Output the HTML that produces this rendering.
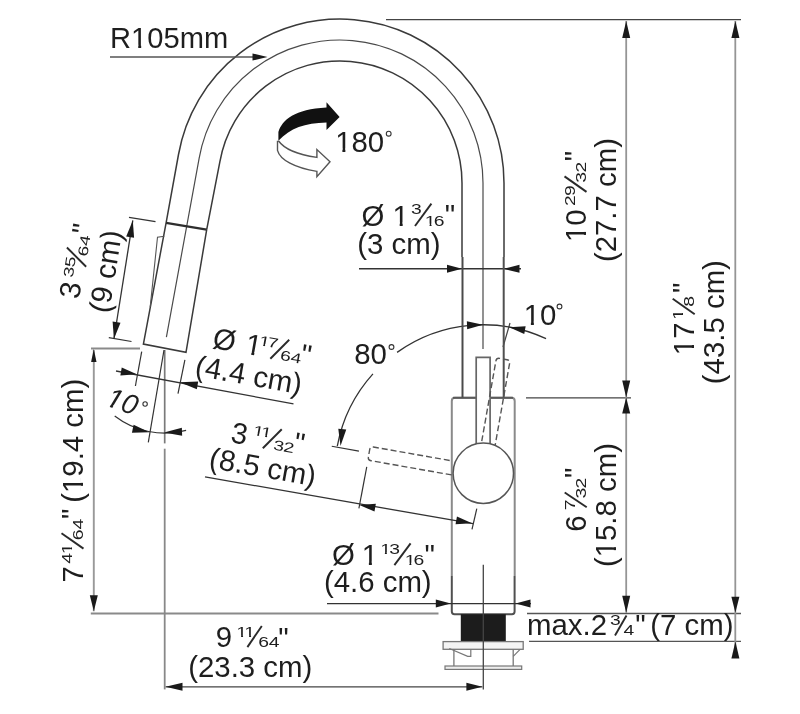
<!DOCTYPE html>
<html><head><meta charset="utf-8"><style>
html,body{margin:0;padding:0;background:#fff;}
svg{display:block;will-change:transform;}
#wrap{width:800px;height:714px;overflow:hidden;}
text{font-family:"Liberation Sans",sans-serif;}
</style></head><body><div id="wrap">
<svg width="800" height="714" viewBox="0 0 800 714">
<rect width="800" height="714" fill="#fff"></rect>
<path d="M504,257 L504,183 A164,164 0 0 0 178.5,154.5 L166.1,222.9 L143.4,344.1 L186,352.3 L206.7,229.7" fill="none" stroke="#3a3a3a" stroke-width="1.5"></path>
<path d="M462,257 L462,183 A122,122 0 0 0 219.85,161.8 L206.7,229.7" fill="none" stroke="#3a3a3a" stroke-width="1.5"></path>
<path d="M483,349 L483,183 A143,143 0 0 0 199.17,158.17 L166.4,337.1" fill="none" stroke="#4a4a4a" stroke-width="1.2"></path>
<line x1="166.10" y1="222.90" x2="206.70" y2="229.70" stroke="#2e2e2e" stroke-width="2.3"></line>
<path d="M150.2,306.9 L157.5,237.2 L164.3,236.2" fill="none" stroke="#555" stroke-width="1.1"></path>
<line x1="386.00" y1="19.60" x2="741.00" y2="19.60" stroke="#444" stroke-width="1.4"></line>
<text x="110.11" y="48.00" font-size="29.1" fill="#1e1e1e">R105mm</text><polygon points="132.03,49.30 132.03,44.79 138.24,44.79 138.24,49.30" fill="#fff"></polygon><polygon points="141.18,49.30 141.18,44.79 147.17,44.79 147.17,49.30" fill="#fff"></polygon>
<line x1="110.00" y1="57.00" x2="256.00" y2="57.00" stroke="#555" stroke-width="1.5"></line>
<polygon points="267.50,57.00 252.50,60.60 252.50,53.40" fill="#1a1a1a" stroke="none" stroke-width="1"></polygon>
<path d="M278.4,132 C282,120 295,109 326.5,107.5 L326.5,102.25 L339.6,117.1 L326.5,129.9 L326.5,122.4 C305,123 290,128 278.4,140.75 Z" fill="#111"></path>
<path d="M277.5,140.75 L277.5,150.4 C280,160 295,168 316.9,171.4 L316.9,176.6 L330,161.75 L316.9,149.5 L316.9,157.4 C300,155 285,150 278.4,140.75" fill="#fff" stroke="#555" stroke-width="1.4"></path>
<text x="335.18" y="151.60" font-size="29.4" fill="#1e1e1e">180</text><polygon points="336.12,152.90 336.12,148.36 342.39,148.36 342.39,152.90" fill="#fff"></polygon><polygon points="345.36,152.90 345.36,148.36 351.40,148.36 351.40,152.90" fill="#fff"></polygon>
<circle cx="388.70" cy="133.70" r="2.4" fill="none" stroke="#333" stroke-width="1.1"></circle>
<line x1="359.00" y1="268.75" x2="521.00" y2="268.75" stroke="#333" stroke-width="1.3"></line>
<polygon points="462.00,268.75 447.00,272.75 447.00,264.75" fill="#1a1a1a" stroke="none" stroke-width="1"></polygon>
<polygon points="503.50,268.75 519.50,264.75 519.50,272.75" fill="#1a1a1a" stroke="none" stroke-width="1"></polygon>
<text x="361.38" y="225.50" font-size="29.4" fill="#1e1e1e">Ø</text>
<text x="392.48" y="225.50" font-size="29.4" fill="#1e1e1e">1</text><polygon points="393.42,226.80 393.42,222.26 399.69,222.26 399.69,226.80" fill="#fff"></polygon><polygon points="402.66,226.80 402.66,222.26 408.70,222.26 408.70,226.80" fill="#fff"></polygon>
<text transform="translate(410.96,214.00) scale(1.38,1)" font-size="14" fill="#1e1e1e">3</text>
<line x1="415.00" y1="226.00" x2="431.40" y2="203.60" stroke="#2a2a2a" stroke-width="1.9"></line>
<text transform="translate(424.85,225.70) scale(1.38,1)" font-size="14" fill="#1e1e1e">1</text><polygon points="-0.23,1.30 -0.23,-2.09 3.43,-2.09 3.43,1.30" fill="#fff" transform="translate(424.85,225.70) scale(1.38,1)"></polygon><polygon points="4.85,1.30 4.85,-2.09 8.40,-2.09 8.40,1.30" fill="#fff" transform="translate(424.85,225.70) scale(1.38,1)"></polygon>
<text transform="translate(433.73,225.70) scale(1.38,1)" font-size="14" fill="#1e1e1e">6</text>
<text x="444.75" y="225.23" font-size="29.4" fill="#1e1e1e">"</text>
<text x="357.18" y="254.00" font-size="29.4" fill="#1e1e1e">(3 cm)</text>
<line x1="510.00" y1="323.00" x2="503.00" y2="347.00" stroke="#444" stroke-width="1.2"></line>
<text x="523.68" y="324.50" font-size="29.4" fill="#1e1e1e">10</text><polygon points="524.62,325.80 524.62,321.26 530.89,321.26 530.89,325.80" fill="#fff"></polygon><polygon points="533.86,325.80 533.86,321.26 539.90,321.26 539.90,325.80" fill="#fff"></polygon>
<circle cx="559.50" cy="306.50" r="2.4" fill="none" stroke="#333" stroke-width="1.1"></circle>
<path d="M546.06,338.71 A148.5,148.5 0 0 0 397.07,352.40" fill="none" stroke="#333" stroke-width="1.3"></path>
<path d="M372.94,373.93 A148.5,148.5 0 0 0 337.29,446.24" fill="none" stroke="#333" stroke-width="1.3"></path>
<polygon points="483.00,324.80 467.15,329.36 466.87,321.36" fill="#1a1a1a" stroke="none" stroke-width="1"></polygon>
<polygon points="509.20,327.30 525.65,326.14 524.26,334.02" fill="#1a1a1a" stroke="none" stroke-width="1"></polygon>
<polygon points="340.50,446.00 338.30,428.68 346.26,429.51" fill="#1a1a1a" stroke="none" stroke-width="1"></polygon>
<text x="354.22" y="364.40" font-size="29.4" fill="#1e1e1e">80</text>
<circle cx="391.50" cy="347.00" r="2.4" fill="none" stroke="#333" stroke-width="1.1"></circle>
<path d="M476.2,397.8 L455,397.8 Q451.8,397.8 451.8,401 L451.8,576" fill="none" stroke="#8a8a8a" stroke-width="2"></path>
<path d="M490.1,397.8 L511.5,397.8 Q514.7,397.8 514.7,401 L514.7,576" fill="none" stroke="#8a8a8a" stroke-width="2"></path>
<line x1="453.00" y1="397.80" x2="476.20" y2="397.80" stroke="#5a5a5a" stroke-width="2"></line>
<line x1="490.10" y1="397.80" x2="513.00" y2="397.80" stroke="#5a5a5a" stroke-width="2"></line>
<line x1="462.50" y1="257.00" x2="462.50" y2="397.60" stroke="#4a4a4a" stroke-width="2"></line>
<line x1="503.70" y1="257.00" x2="503.70" y2="397.60" stroke="#505050" stroke-width="2"></line>
<path d="M476.2,447 L476.2,357.3 L490.1,357.3 L490.1,447" fill="none" stroke="#666" stroke-width="1.7"></path>
<circle cx="483.3" cy="473.3" r="30.2" fill="#fff" stroke="#555" stroke-width="1.5"></circle>
<path transform="rotate(10 483.3 473.3)" d="M476.2,444 L476.2,360.5 Q476.2,357.3 479.4,357.3 L486.9,357.3 Q490.1,357.3 490.1,360.5 L490.1,444" fill="none" stroke="#555" stroke-width="1.4" stroke-dasharray="6,3" stroke-dashoffset="7"></path>
<path transform="rotate(-80 483.3 473.3)" d="M476.2,442.4 L476.2,360.5 Q476.2,357.3 479.4,357.3 L486.9,357.3 Q490.1,357.3 490.1,360.5 L490.1,439.9" fill="none" stroke="#555" stroke-width="1.4" stroke-dasharray="6,3" stroke-dashoffset="0"></path>
<line x1="526.00" y1="397.80" x2="631.00" y2="397.80" stroke="#444" stroke-width="1.3"></line>
<line x1="331.75" y1="446.25" x2="358.90" y2="451.20" stroke="#333" stroke-width="1.2"></line>
<line x1="366.75" y1="466.90" x2="358.90" y2="508.40" stroke="#333" stroke-width="1.2"></line>
<line x1="205.00" y1="476.90" x2="473.00" y2="523.70" stroke="#333" stroke-width="1.3"></line>
<polygon points="359.40,504.90 375.85,503.74 374.46,511.62" fill="#1a1a1a" stroke="none" stroke-width="1"></polygon>
<polygon points="472.00,523.20 455.55,524.36 456.94,516.48" fill="#1a1a1a" stroke="none" stroke-width="1"></polygon>
<line x1="476.80" y1="508.70" x2="472.00" y2="529.40" stroke="#333" stroke-width="1.2"></line>
<line x1="90.80" y1="613.50" x2="438.50" y2="613.50" stroke="#8a8a8a" stroke-width="1.9"></line>
<path d="M451.8,576 L451.8,611.5 Q451.8,614.2 454.5,614.2 L512,614.2 Q514.6,614.2 514.6,611.5 L514.6,576" fill="none" stroke="#505050" stroke-width="2"></path>
<line x1="527.00" y1="613.50" x2="741.00" y2="613.50" stroke="#555" stroke-width="1.4"></line>
<line x1="529.00" y1="641.40" x2="741.00" y2="641.40" stroke="#555" stroke-width="1.4"></line>
<line x1="327.00" y1="603.60" x2="531.00" y2="603.60" stroke="#333" stroke-width="1.3"></line>
<polygon points="450.80,603.60 435.80,607.60 435.80,599.60" fill="#1a1a1a" stroke="none" stroke-width="1"></polygon>
<polygon points="515.50,603.60 530.50,599.60 530.50,607.60" fill="#1a1a1a" stroke="none" stroke-width="1"></polygon>
<text x="331.88" y="564.60" font-size="29.4" fill="#1e1e1e">Ø</text>
<text x="361.68" y="564.60" font-size="29.4" fill="#1e1e1e">1</text><polygon points="362.62,565.90 362.62,561.36 368.89,561.36 368.89,565.90" fill="#fff"></polygon><polygon points="371.86,565.90 371.86,561.36 377.90,561.36 377.90,565.90" fill="#fff"></polygon>
<text transform="translate(380.15,554.10) scale(1.38,1)" font-size="14" fill="#1e1e1e">1</text><polygon points="-0.23,1.30 -0.23,-2.09 3.43,-2.09 3.43,1.30" fill="#fff" transform="translate(380.15,554.10) scale(1.38,1)"></polygon><polygon points="4.85,1.30 4.85,-2.09 8.40,-2.09 8.40,1.30" fill="#fff" transform="translate(380.15,554.10) scale(1.38,1)"></polygon>
<text transform="translate(389.28,554.10) scale(1.38,1)" font-size="14" fill="#1e1e1e">3</text>
<line x1="394.40" y1="565.10" x2="410.60" y2="543.40" stroke="#2a2a2a" stroke-width="1.9"></line>
<text transform="translate(404.65,564.75) scale(1.38,1)" font-size="14" fill="#1e1e1e">1</text><polygon points="-0.23,1.30 -0.23,-2.09 3.43,-2.09 3.43,1.30" fill="#fff" transform="translate(404.65,564.75) scale(1.38,1)"></polygon><polygon points="4.85,1.30 4.85,-2.09 8.40,-2.09 8.40,1.30" fill="#fff" transform="translate(404.65,564.75) scale(1.38,1)"></polygon>
<text transform="translate(413.53,564.75) scale(1.38,1)" font-size="14" fill="#1e1e1e">6</text>
<text x="424.45" y="564.73" font-size="29.4" fill="#1e1e1e">"</text>
<text x="323.88" y="591.90" font-size="29.4" fill="#1e1e1e">(4.6 cm)</text>
<rect x="460.8" y="614.2" width="45" height="27" fill="#1c1c1c"></rect>
<rect x="443.1" y="641.6" width="80.1" height="7.7" fill="#f4f4f4" stroke="#777" stroke-width="1.3"></rect>
<line x1="453.90" y1="649.30" x2="453.90" y2="666.30" stroke="#777" stroke-width="1.3"></line>
<line x1="513.20" y1="649.30" x2="513.20" y2="666.30" stroke="#777" stroke-width="1.3"></line>
<path d="M449.3,648.5 L467.7,656.3 L470.8,656.3 L470.8,649.3" fill="none" stroke="#777" stroke-width="1.2"></path>
<line x1="520.10" y1="649.30" x2="513.20" y2="656.30" stroke="#777" stroke-width="1.2"></line>
<rect x="445" y="666" width="76.7" height="3.4" fill="#eee" stroke="#777" stroke-width="1.2"></rect>
<line x1="483.30" y1="564.70" x2="483.30" y2="689.40" stroke="#444" stroke-width="1.3"></line>
<line x1="165.50" y1="686.80" x2="482.40" y2="686.80" stroke="#444" stroke-width="1.3"></line>
<polygon points="482.40,686.80 466.40,690.80 466.40,682.80" fill="#1a1a1a" stroke="none" stroke-width="1"></polygon>
<polygon points="165.50,686.80 182.50,682.80 182.50,690.80" fill="#1a1a1a" stroke="none" stroke-width="1"></polygon>
<text x="215.72" y="647.10" font-size="29.4" fill="#1e1e1e">9</text>
<text transform="translate(236.35,636.90) scale(1.38,1)" font-size="14" fill="#1e1e1e">1</text><polygon points="-0.23,1.30 -0.23,-2.09 3.43,-2.09 3.43,1.30" fill="#fff" transform="translate(236.35,636.90) scale(1.38,1)"></polygon><polygon points="4.85,1.30 4.85,-2.09 8.40,-2.09 8.40,1.30" fill="#fff" transform="translate(236.35,636.90) scale(1.38,1)"></polygon>
<text transform="translate(244.36,636.90) scale(1.38,1)" font-size="14" fill="#1e1e1e">1</text><polygon points="-0.23,1.30 -0.23,-2.09 3.43,-2.09 3.43,1.30" fill="#fff" transform="translate(244.36,636.90) scale(1.38,1)"></polygon><polygon points="4.85,1.30 4.85,-2.09 8.40,-2.09 8.40,1.30" fill="#fff" transform="translate(244.36,636.90) scale(1.38,1)"></polygon>
<line x1="247.40" y1="647.10" x2="261.80" y2="626.00" stroke="#2a2a2a" stroke-width="1.9"></line>
<text transform="translate(258.22,647.10) scale(1.38,1)" font-size="14" fill="#1e1e1e">6</text>
<text transform="translate(268.87,647.10) scale(1.38,1)" font-size="14" fill="#1e1e1e">4</text>
<text x="278.25" y="647.93" font-size="29.4" fill="#1e1e1e">"</text>
<text x="188.18" y="676.60" font-size="29.4" fill="#1e1e1e">(23.3 cm)</text>
<line x1="626.20" y1="21.00" x2="626.20" y2="612.80" stroke="#959595" stroke-width="1.8"></line>
<polygon points="626.20,21.00 630.20,38.00 622.20,38.00" fill="#1a1a1a" stroke="none" stroke-width="1"></polygon>
<polygon points="626.20,397.60 622.20,380.60 630.20,380.60" fill="#1a1a1a" stroke="none" stroke-width="1"></polygon>
<polygon points="626.20,397.60 630.20,413.60 622.20,413.60" fill="#1a1a1a" stroke="none" stroke-width="1"></polygon>
<polygon points="626.20,612.80 622.20,595.80 630.20,595.80" fill="#1a1a1a" stroke="none" stroke-width="1"></polygon>
<line x1="735.30" y1="21.00" x2="735.30" y2="658.00" stroke="#959595" stroke-width="1.8"></line>
<polygon points="735.40,21.00 739.40,38.00 731.40,38.00" fill="#1a1a1a" stroke="none" stroke-width="1"></polygon>
<polygon points="735.40,612.80 731.40,596.80 739.40,596.80" fill="#1a1a1a" stroke="none" stroke-width="1"></polygon>
<polygon points="735.40,641.40 739.40,658.40 731.40,658.40" fill="#1a1a1a" stroke="none" stroke-width="1"></polygon>
<text x="526.95" y="634.60" font-size="29.4" fill="#1e1e1e">max.2</text>
<text transform="translate(609.96,625.00) scale(1.38,1)" font-size="14" fill="#1e1e1e">3</text>
<line x1="615.00" y1="635.50" x2="626.50" y2="615.50" stroke="#2a2a2a" stroke-width="1.9"></line>
<text transform="translate(623.56,634.60) scale(1.38,1)" font-size="14" fill="#1e1e1e">4</text>
<text x="635.25" y="634.73" font-size="29.4" fill="#1e1e1e">"</text>
<text x="650.18" y="634.60" font-size="29.4" fill="#1e1e1e">(7 cm)</text>
<line x1="91.00" y1="348.40" x2="140.00" y2="348.40" stroke="#8a8a8a" stroke-width="2"></line>
<line x1="93.80" y1="350.00" x2="93.80" y2="611.30" stroke="#999" stroke-width="1.9"></line>
<polygon points="93.80,349.00 96.50,362.00 91.10,362.00" fill="#1a1a1a" stroke="none" stroke-width="1"></polygon>
<polygon points="93.80,611.30 89.80,595.30 97.80,595.30" fill="#1a1a1a" stroke="none" stroke-width="1"></polygon>
<line x1="164.70" y1="350.00" x2="164.70" y2="443.40" stroke="#7a7a7a" stroke-width="1.7"></line>
<line x1="164.70" y1="448.70" x2="164.70" y2="689.40" stroke="#888" stroke-width="1.8"></line>
<line x1="164.00" y1="350.00" x2="148.30" y2="442.40" stroke="#333" stroke-width="1.2"></line>
<line x1="141.70" y1="351.60" x2="135.40" y2="386.00" stroke="#333" stroke-width="1.2"></line>
<line x1="184.90" y1="359.90" x2="178.00" y2="393.70" stroke="#333" stroke-width="1.2"></line>
<line x1="116.00" y1="371.00" x2="293.50" y2="403.90" stroke="#333" stroke-width="1.3"></line>
<polygon points="136.80,374.30 120.35,375.46 121.74,367.58" fill="#1a1a1a" stroke="none" stroke-width="1"></polygon>
<polygon points="179.80,382.20 198.22,381.39 196.83,389.26" fill="#1a1a1a" stroke="none" stroke-width="1"></polygon>
<path d="M114.7,416 A82.5,82.5 0 0 0 186.1,430.4" fill="none" stroke="#333" stroke-width="1.2"></path>
<polygon points="149.40,432.30 131.94,432.68 133.60,424.85" fill="#1a1a1a" stroke="none" stroke-width="1"></polygon>
<polygon points="164.00,432.50 181.85,427.87 182.13,435.87" fill="#1a1a1a" stroke="none" stroke-width="1"></polygon>
<line x1="129.00" y1="217.30" x2="155.50" y2="221.60" stroke="#333" stroke-width="1.2"></line>
<line x1="108.80" y1="337.70" x2="131.50" y2="341.50" stroke="#333" stroke-width="1.2"></line>
<line x1="132.80" y1="220.40" x2="113.90" y2="339.00" stroke="#333" stroke-width="1.3"></line>
<polygon points="132.80,220.40 134.09,237.82 126.19,236.56" fill="#1a1a1a" stroke="none" stroke-width="1"></polygon>
<polygon points="113.90,339.00 112.61,321.58 120.51,322.84" fill="#1a1a1a" stroke="none" stroke-width="1"></polygon>
<g transform="translate(586.00,239.30) rotate(-90)">
<text x="-2.82" y="0.00" font-size="29.4" fill="#1e1e1e">10</text><polygon points="-1.88,1.30 -1.88,-3.24 4.39,-3.24 4.39,1.30" fill="#fff"></polygon><polygon points="7.36,1.30 7.36,-3.24 13.40,-3.24 13.40,1.30" fill="#fff"></polygon>
<text transform="translate(33.23,-11.00) scale(1.38,1)" font-size="14" fill="#1e1e1e">2</text>
<text transform="translate(43.30,-11.00) scale(1.38,1)" font-size="14" fill="#1e1e1e">9</text>
<line x1="47.40" y1="0.50" x2="62.90" y2="-21.50" stroke="#2a2a2a" stroke-width="1.9"></line>
<text transform="translate(56.66,0.00) scale(1.38,1)" font-size="14" fill="#1e1e1e">3</text>
<text transform="translate(66.79,0.00) scale(1.38,1)" font-size="14" fill="#1e1e1e">2</text>
<text x="78.05" y="-0.77" font-size="29.4" fill="#1e1e1e">"</text>
<text x="-22.82" y="29.50" font-size="29.4" fill="#1e1e1e">(27.7 cm)</text>
</g>
<g transform="translate(694.20,352.40) rotate(-90)">
<text x="-2.82" y="0.00" font-size="29.4" fill="#1e1e1e">17</text><polygon points="-1.88,1.30 -1.88,-3.24 4.39,-3.24 4.39,1.30" fill="#fff"></polygon><polygon points="7.36,1.30 7.36,-3.24 13.40,-3.24 13.40,1.30" fill="#fff"></polygon>
<text transform="translate(32.65,-11.00) scale(1.38,1)" font-size="14" fill="#1e1e1e">1</text><polygon points="-0.23,1.30 -0.23,-2.09 3.43,-2.09 3.43,1.30" fill="#fff" transform="translate(32.65,-11.00) scale(1.38,1)"></polygon><polygon points="4.85,1.30 4.85,-2.09 8.40,-2.09 8.40,1.30" fill="#fff" transform="translate(32.65,-11.00) scale(1.38,1)"></polygon>
<line x1="38.10" y1="0.50" x2="53.60" y2="-21.50" stroke="#2a2a2a" stroke-width="1.9"></line>
<text transform="translate(45.56,0.00) scale(1.38,1)" font-size="14" fill="#1e1e1e">8</text>
<text x="59.45" y="-0.77" font-size="29.4" fill="#1e1e1e">"</text>
<text x="-31.82" y="29.60" font-size="29.4" fill="#1e1e1e">(43.5 cm)</text>
</g>
<g transform="translate(586.20,530.30) rotate(-90)">
<text x="-1.49" y="0.00" font-size="29.4" fill="#1e1e1e">6</text>
<text transform="translate(20.01,-11.00) scale(1.38,1)" font-size="14" fill="#1e1e1e">7</text>
<line x1="23.10" y1="0.50" x2="37.80" y2="-21.50" stroke="#2a2a2a" stroke-width="1.9"></line>
<text transform="translate(31.76,0.00) scale(1.38,1)" font-size="14" fill="#1e1e1e">3</text>
<text transform="translate(41.89,0.00) scale(1.38,1)" font-size="14" fill="#1e1e1e">2</text>
<text x="52.25" y="-0.77" font-size="29.4" fill="#1e1e1e">"</text>
<text x="-36.82" y="29.50" font-size="29.4" fill="#1e1e1e">(15.8 cm)</text><polygon points="-26.10,30.80 -26.10,26.26 -19.83,26.26 -19.83,30.80" fill="#fff"></polygon><polygon points="-16.86,30.80 -16.86,26.26 -10.82,26.26 -10.82,30.80" fill="#fff"></polygon>
</g>
<g transform="translate(83.00,581.00) rotate(-90)">
<text x="-1.51" y="0.00" font-size="29.4" fill="#1e1e1e">7</text>
<text transform="translate(17.36,-11.00) scale(1.38,1)" font-size="14" fill="#1e1e1e">4</text>
<text transform="translate(26.88,-11.00) scale(1.38,1)" font-size="14" fill="#1e1e1e">1</text><polygon points="-0.23,1.30 -0.23,-2.09 3.43,-2.09 3.43,1.30" fill="#fff" transform="translate(26.88,-11.00) scale(1.38,1)"></polygon><polygon points="4.85,1.30 4.85,-2.09 8.40,-2.09 8.40,1.30" fill="#fff" transform="translate(26.88,-11.00) scale(1.38,1)"></polygon>
<line x1="32.40" y1="0.50" x2="47.80" y2="-21.50" stroke="#2a2a2a" stroke-width="1.9"></line>
<text transform="translate(40.82,0.00) scale(1.38,1)" font-size="14" fill="#1e1e1e">6</text>
<text transform="translate(51.47,0.00) scale(1.38,1)" font-size="14" fill="#1e1e1e">4</text>
<text x="62.05" y="-0.77" font-size="29.4" fill="#1e1e1e">"</text>
<text x="78.18" y="0.40" font-size="29.4" fill="#1e1e1e">(19.4 cm)</text><polygon points="88.90,1.70 88.90,-2.84 95.17,-2.84 95.17,1.70" fill="#fff"></polygon><polygon points="98.14,1.70 98.14,-2.84 104.18,-2.84 104.18,1.70" fill="#fff"></polygon>
</g>
<g transform="translate(79.00,296.00) rotate(-81)">
<text x="-3.62" y="0.50" font-size="29.4" fill="#1e1e1e">3</text>
<text transform="translate(16.76,-9.00) scale(1.38,1)" font-size="14" fill="#1e1e1e">3</text>
<text transform="translate(27.09,-9.00) scale(1.38,1)" font-size="14" fill="#1e1e1e">5</text>
<line x1="30.00" y1="2.50" x2="46.00" y2="-19.50" stroke="#2a2a2a" stroke-width="1.9"></line>
<text transform="translate(39.82,2.00) scale(1.38,1)" font-size="14" fill="#1e1e1e">6</text>
<text transform="translate(50.47,2.00) scale(1.38,1)" font-size="14" fill="#1e1e1e">4</text>
<text x="61.45" y="3.23" font-size="29.4" fill="#1e1e1e">"</text>
<text x="-13.07" y="32.50" font-size="29.4" fill="#1e1e1e">(9 cm)</text>
</g>
<g transform="translate(212.40,348.00) rotate(10)">
<text x="-1.02" y="0.00" font-size="29.4" fill="#1e1e1e">Ø</text>
<text x="32.08" y="0.00" font-size="29.4" fill="#1e1e1e">1</text><polygon points="33.02,1.30 33.02,-3.24 39.29,-3.24 39.29,1.30" fill="#fff"></polygon><polygon points="42.26,1.30 42.26,-3.24 48.30,-3.24 48.30,1.30" fill="#fff"></polygon>
<text transform="translate(44.75,-11.00) scale(1.38,1)" font-size="14" fill="#1e1e1e">1</text><polygon points="-0.23,1.30 -0.23,-2.09 3.43,-2.09 3.43,1.30" fill="#fff" transform="translate(44.75,-11.00) scale(1.38,1)"></polygon><polygon points="4.85,1.30 4.85,-2.09 8.40,-2.09 8.40,1.30" fill="#fff" transform="translate(44.75,-11.00) scale(1.38,1)"></polygon>
<text transform="translate(53.62,-11.00) scale(1.38,1)" font-size="14" fill="#1e1e1e">7</text>
<line x1="58.90" y1="0.50" x2="74.20" y2="-21.50" stroke="#2a2a2a" stroke-width="1.9"></line>
<text transform="translate(68.12,0.00) scale(1.38,1)" font-size="14" fill="#1e1e1e">6</text>
<text transform="translate(78.77,0.00) scale(1.38,1)" font-size="14" fill="#1e1e1e">4</text>
<text x="88.45" y="0.73" font-size="29.4" fill="#1e1e1e">"</text>
<text x="-13.32" y="30.20" font-size="29.4" fill="#1e1e1e">(4.4 cm)</text>
</g>
<g transform="translate(230.90,442.10) rotate(10)">
<text x="-1.12" y="0.00" font-size="29.4" fill="#1e1e1e">3</text>
<text transform="translate(19.95,-11.00) scale(1.38,1)" font-size="14" fill="#1e1e1e">1</text><polygon points="-0.23,1.30 -0.23,-2.09 3.43,-2.09 3.43,1.30" fill="#fff" transform="translate(19.95,-11.00) scale(1.38,1)"></polygon><polygon points="4.85,1.30 4.85,-2.09 8.40,-2.09 8.40,1.30" fill="#fff" transform="translate(19.95,-11.00) scale(1.38,1)"></polygon>
<text transform="translate(27.96,-11.00) scale(1.38,1)" font-size="14" fill="#1e1e1e">1</text><polygon points="-0.23,1.30 -0.23,-2.09 3.43,-2.09 3.43,1.30" fill="#fff" transform="translate(27.96,-11.00) scale(1.38,1)"></polygon><polygon points="4.85,1.30 4.85,-2.09 8.40,-2.09 8.40,1.30" fill="#fff" transform="translate(27.96,-11.00) scale(1.38,1)"></polygon>
<line x1="32.50" y1="0.50" x2="47.85" y2="-21.50" stroke="#2a2a2a" stroke-width="1.9"></line>
<text transform="translate(42.56,0.00) scale(1.38,1)" font-size="14" fill="#1e1e1e">3</text>
<text transform="translate(52.69,0.00) scale(1.38,1)" font-size="14" fill="#1e1e1e">2</text>
<text x="62.45" y="-0.77" font-size="29.4" fill="#1e1e1e">"</text>
<text x="-18.02" y="29.00" font-size="29.4" fill="#1e1e1e">(8.5 cm)</text>
</g>
<g transform="translate(104.50,405.00) rotate(20)">
<text x="0" y="0" font-size="28" font-style="italic" fill="#1e1e1e">10</text><polygon points="-0.58,1.30 0.74,-3.13 5.96,-3.13 5.47,1.30" fill="#fff"></polygon><polygon points="8.20,1.30 8.75,-3.13 14.51,-3.13 14.10,1.30" fill="#fff"></polygon>
</g>
<circle cx="145.10" cy="404.00" r="2.2" fill="none" stroke="#333" stroke-width="1.1"></circle>
</svg></div></body></html>
